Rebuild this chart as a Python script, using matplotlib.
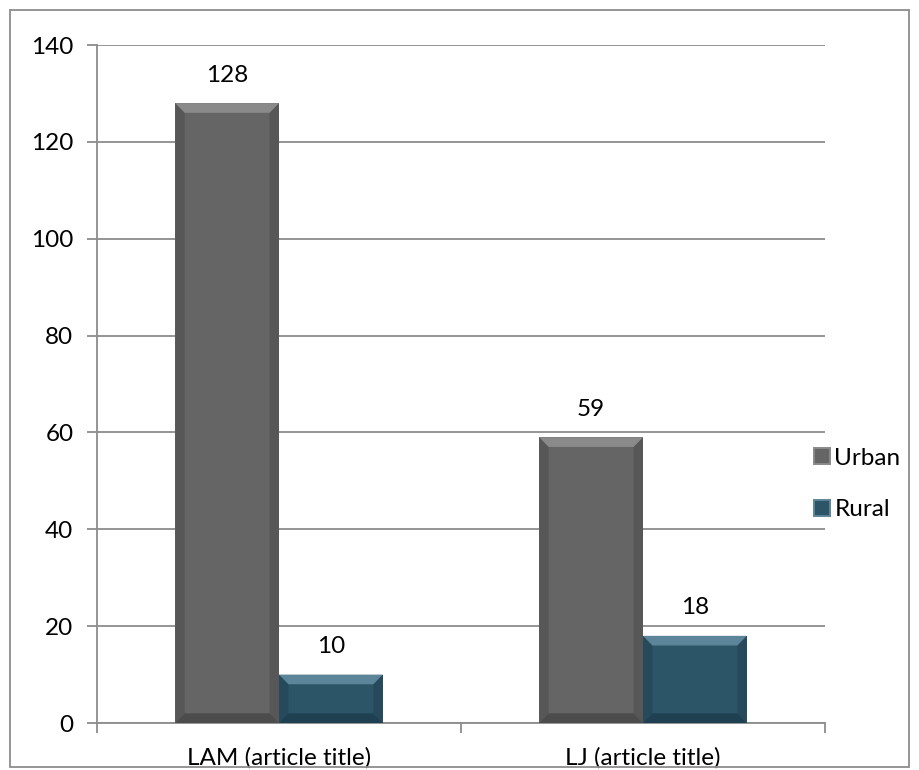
import numpy as np
import matplotlib
matplotlib.use("Agg")
import matplotlib.pyplot as plt
from matplotlib.patches import Polygon, Rectangle
from matplotlib.lines import Line2D

plt.rcParams["font.family"] = ["Lato", "DejaVu Sans"]

categories = ["LAM (article title)", "LJ (article title)"]
series = ["Urban", "Rural"]
urban = [128, 59]
rural = [10, 18]

# main, top bevel, side bevel, bottom bevel
COLORS = {"Urban": ("#656565", "#8a8a8a", "#575757", "#4c4c4c"),
          "Rural": ("#2d5568", "#5d8599", "#264a5b", "#1f4050")}
GRID = "#8c8c8c"
FS = 17.5

fig = plt.figure(figsize=(9.19, 7.70), dpi=100)
ax = fig.add_axes([97/919, 1-723/770, (825-97)/919, (723-45)/770])

x = np.arange(len(categories))
w = 0.285
bev_x = 0.026   # bevel in category units
bev_y = 2.0     # bevel in data units


def bevel_bar(ax, xc, h, name):
    main, top, side, bot = COLORS[name]
    x0, x1 = xc - w/2, xc + w/2
    ax.bar(xc, h, w, color=main, zorder=3, label=name)
    by = min(bev_y, h/3)
    ax.add_patch(Polygon([(x0, h), (x0+bev_x, h-by), (x0+bev_x, by), (x0, 0)],
                         closed=True, color=side, zorder=4, lw=0))
    ax.add_patch(Polygon([(x1, h), (x1-bev_x, h-by), (x1-bev_x, by), (x1, 0)],
                         closed=True, color=side, zorder=4, lw=0))
    ax.add_patch(Polygon([(x0, 0), (x0+bev_x, by), (x1-bev_x, by), (x1, 0)],
                         closed=True, color=bot, zorder=4, lw=0))
    ax.add_patch(Polygon([(x0, h), (x1, h), (x1-bev_x, h-by), (x0+bev_x, h-by)],
                         closed=True, color=top, zorder=5, lw=0))
    ax.text(xc, h + 3.6, str(h), ha="center", va="bottom", fontsize=FS, color="black")


for i in range(len(categories)):
    bevel_bar(ax, x[i] - w/2, urban[i], "Urban")
    bevel_bar(ax, x[i] + w/2, rural[i], "Rural")

ax.set_xlim(-0.5, len(categories) - 0.5)
ax.set_ylim(0, 140)
ax.set_yticks(range(0, 141, 20))
ax.set_xticks(x)
ax.set_xticklabels(categories)
ax.set_xticks([-0.5, 0.5, 1.5], minor=True)
ax.tick_params(axis="x", which="major", length=0, pad=17, labelsize=FS)
ax.tick_params(axis="x", which="minor", length=7, color=GRID, width=1.3, direction="out")
ax.tick_params(axis="y", length=7, color=GRID, width=1.3, pad=10, labelsize=FS)
ax.yaxis.grid(True, color=GRID, lw=1.3)
ax.set_axisbelow(True)
for s in ["top", "right"]:
    ax.spines[s].set_visible(False)
for s in ["left", "bottom"]:
    ax.spines[s].set_color(GRID)
    ax.spines[s].set_linewidth(1.3)

handles = [Line2D([], [], marker="s", ls="", markersize=11, markerfacecolor=COLORS[n][0],
                  markeredgecolor=COLORS[n][1], markeredgewidth=1.4) for n in series]
fig.legend(handles, series, loc="center left", bbox_to_anchor=(810/919, 1-484/770),
           frameon=False, fontsize=FS, handletextpad=0.0, labelspacing=1.25,
           handlelength=1.0, borderaxespad=0, borderpad=0)

fig.add_artist(Rectangle((10/919, 1-767/770), (909-10)/919, (767-10)/770,
                         transform=fig.transFigure, fill=False, ec="#8c8c8c", lw=1.3))

fig.savefig("out.png", dpi=100)
